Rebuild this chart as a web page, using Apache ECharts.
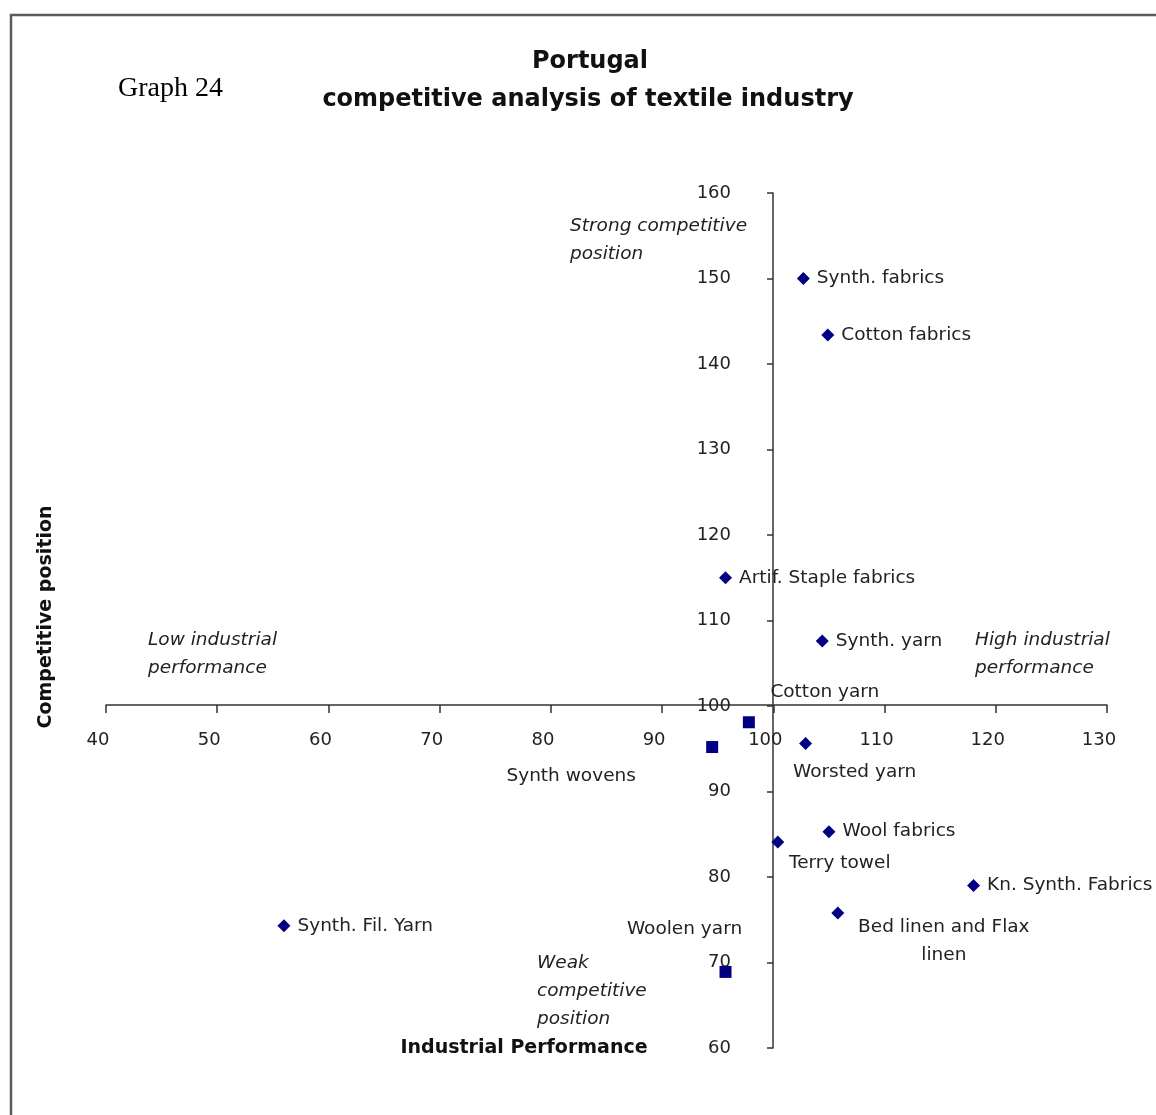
<!DOCTYPE html>
<html>
<head>
<meta charset="utf-8">
<script src="https://cdn.jsdelivr.net/npm/echarts@6/dist/echarts.min.js"></script>
<style>
html,body{margin:0;padding:0;background:#fff;}
#chart{width:1156px;height:1115px;}
</style>
</head>
<body>
<div id="chart"></div>
<script>
// ---- data ----
const diamondNames = ["Synth. fabrics","Cotton fabrics","Artif. Staple fabrics","Synth. yarn","Worsted yarn","Wool fabrics","Terry towel","Kn. Synth. Fabrics","Bed linen and Flax\nlinen","Synth. Fil. Yarn"];
const diamondX = [102.7,104.9,95.7,104.4,102.9,105.0,100.4,118.0,105.8,56.0];
const diamondY = [150.0,143.4,115.0,107.6,95.6,85.3,84.1,79.0,75.8,74.3];
const squareNames = ["Cotton yarn","Synth wovens","Woolen yarn"];
const squareX = [97.8,94.5,95.7];
const squareY = [98.1,95.2,68.9];
const xTicks = [40,50,60,70,80,90,100,110,120,130];
const yTicks = [60,70,80,90,100,110,120,130,140,150,160];

// ---- label placement (layout only) ----
const labelOffsets = {
  "Cotton yarn":[76,-30],
  "Synth wovens":[-141,29],
  "Worsted yarn":[49,29],
  "Terry towel":[62,21],
  "Bed linen and Flax\nlinen":[106,28],
  "Woolen yarn":[-41,-43]
};
const FONT = "'DejaVu Sans', Verdana, sans-serif";
function makeItems(names, xs, ys){
  return names.map((n,i)=>{
    const item = {name:n, value:[xs[i], ys[i]]};
    if(labelOffsets[n]){
      item.label = {position:'inside', offset:labelOffsets[n], align:'center'};
    }
    return item;
  });
}
const baseLabel = {
  show:true, position:'right', distance:7,
  formatter: p => p.name,
  fontFamily:FONT, fontSize:18.5, color:'#222', lineHeight:28
};
const chart = echarts.init(document.getElementById('chart'));
const axisLineStyle = {color:'#333', width:1.5};
chart.setOption({
  animation:false,
  backgroundColor:'#fff',
  grid:[
    {left:106, top:193, width:1001, height:855},
    {left:106, top:193, width:1001, height:512},
    {left:773, top:193, width:334, height:855}
  ],
  xAxis:[
    {gridIndex:0, type:'value', min:40, max:130, interval:10, show:false},
    {gridIndex:1, type:'value', min:40, max:130, interval:10, position:'bottom',
      axisLine:{show:true, onZero:false, lineStyle:axisLineStyle},
      axisTick:{show:true, length:8, lineStyle:axisLineStyle},
      splitLine:{show:false},
      axisLabel:{margin:26, fontFamily:FONT, fontSize:18, color:'#222', padding:[0,16,0,0], showMinLabel:true, showMaxLabel:true,
        formatter: v => xTicks.includes(v) ? String(v) : ''}},
    {gridIndex:2, type:'value', min:100, max:130, show:false}
  ],
  yAxis:[
    {gridIndex:0, type:'value', min:60, max:160, interval:10, show:false},
    {gridIndex:1, type:'value', min:100, max:160, show:false},
    {gridIndex:2, type:'value', min:60, max:160, interval:10, position:'left',
      axisLine:{show:true, onZero:false, lineStyle:axisLineStyle},
      axisTick:{show:true, length:6, lineStyle:axisLineStyle},
      splitLine:{show:false},
      axisLabel:{margin:42, fontFamily:FONT, fontSize:18, color:'#222', showMinLabel:true, showMaxLabel:true,
        formatter: v => yTicks.includes(v) ? String(v) : ''}}
  ],
  series:[
    {type:'scatter', xAxisIndex:0, yAxisIndex:0, symbol:'diamond', symbolSize:13,
      itemStyle:{color:'#000080', opacity:1}, label:baseLabel,
      data:makeItems(diamondNames, diamondX, diamondY)},
    {type:'scatter', xAxisIndex:0, yAxisIndex:0, symbol:'rect', symbolSize:12,
      itemStyle:{color:'#000080', opacity:1}, label:baseLabel,
      data:makeItems(squareNames, squareX, squareY)}
  ],
  graphic:[
    {type:'rect', shape:{x:11,y:15,width:1300,height:1300}, style:{fill:'none', stroke:'#5a5a5a', lineWidth:2.5}, silent:true},
    {type:'text', x:118, y:89, style:{text:'Graph 24', font:"28px 'Liberation Serif', 'Times New Roman', serif", fill:'#000', verticalAlign:'middle'}},
    {type:'text', x:590, y:62, style:{text:'Portugal', font:"bold 24px 'DejaVu Sans', Verdana, sans-serif", fill:'#111', align:'center', verticalAlign:'middle'}},
    {type:'text', x:588, y:100, style:{text:'competitive analysis of textile industry', font:"bold 24px 'DejaVu Sans', Verdana, sans-serif", fill:'#111', align:'center', verticalAlign:'middle'}},
    {type:'text', x:46, y:617, rotation:Math.PI/2, style:{text:'Competitive position', font:"bold 19px "+FONT, fill:'#111', align:'center', verticalAlign:'middle'}},
    {type:'text', x:524, y:1048, style:{text:'Industrial Performance', font:"bold 19px "+FONT, fill:'#111', align:'center', verticalAlign:'middle'}},
    {type:'text', x:570, y:212, style:{text:'Strong competitive\nposition', font:"italic 18.5px "+FONT, fill:'#222', lineHeight:28, verticalAlign:'top'}},
    {type:'text', x:148, y:626, style:{text:'Low industrial\nperformance', font:"italic 18.5px "+FONT, fill:'#222', lineHeight:28, verticalAlign:'top'}},
    {type:'text', x:975, y:626, style:{text:'High industrial\nperformance', font:"italic 18.5px "+FONT, fill:'#222', lineHeight:28, verticalAlign:'top'}},
    {type:'text', x:537, y:949, style:{text:'Weak\ncompetitive\nposition', font:"italic 18.5px "+FONT, fill:'#222', lineHeight:28, verticalAlign:'top'}}
  ]
});
</script>
</body>
</html>
